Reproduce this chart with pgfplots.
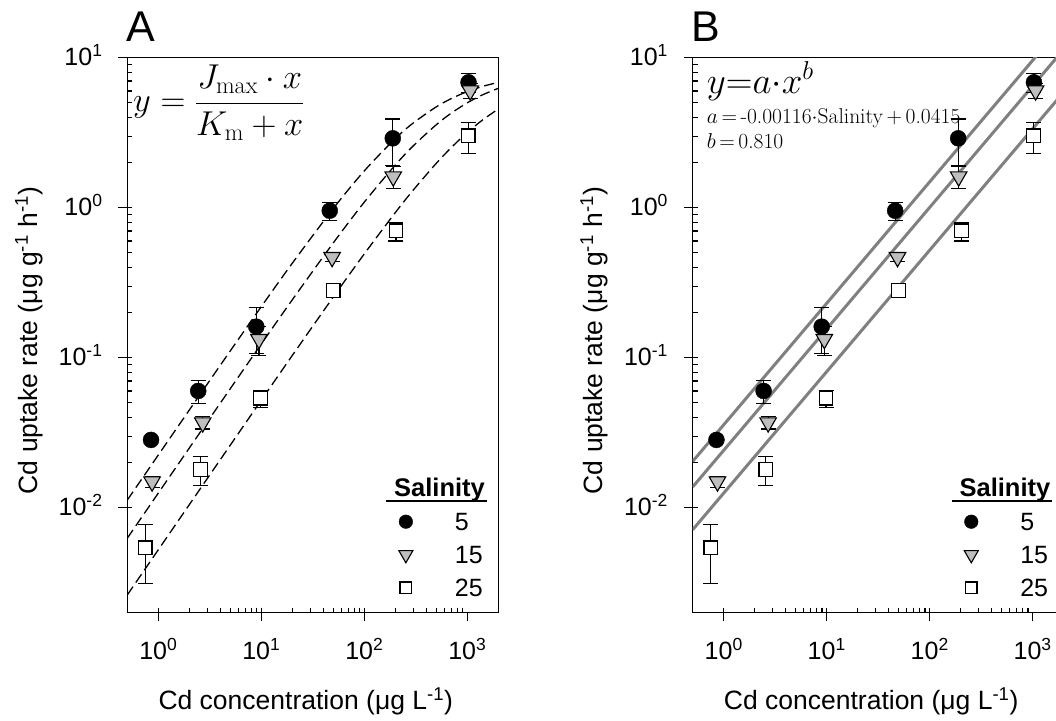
\RequirePackage{fix-cm}
\documentclass[border=0pt]{standalone}
\usepackage{fontspec}
\setsansfont{Liberation Sans}
\renewcommand{\familydefault}{\sfdefault}
\usepackage{pgfplots}
\usepackage{pgfplotstable}
\pgfplotsset{compat=1.18}

\definecolor{trifill}{RGB}{190,190,190}
\definecolor{fitline}{RGB}{128,128,128}

\newcommand{\ticksize}{\fontsize{25}{29}\selectfont}
\newcommand{\labsize}{\fontsize{26.5}{31}\selectfont}

% Cd uptake rate (ug g-1 h-1) against Cd concentration (ug L-1), with error
\pgfplotstableread{
x      y       e
0.85   0.0283  0
2.44   0.0600  0.0103
8.94   0.161   0.055
46.2   0.955   0.13
189    2.90    1.0
1028   6.85    1.0
}\salfive
\pgfplotstableread{
x      y       e
0.87   0.0149  0.0012
2.70   0.0369  0.0034
9.48   0.1327  0.029
48.7   0.467   0.03
191    1.61    0.27
1067   6.03    0.67
}\salfifteen
\pgfplotstableread{
x      y        e
0.747  0.00541  0.0023
2.56   0.0180   0.0039
9.85   0.0536   0.0071
49.8   0.280    0.015
203    0.700    0.10
1021   3.01     0.70
}\saltwentyfive

% Michaelis-Menten fits, y = Jmax x / (Km + x)
\pgfplotstableread{
x     y
0.5   0.01124
1     0.02244
2     0.04476
5     0.1110
10    0.2190
20    0.4264
50    0.9878
100   1.760
200   2.891
300   3.678
500   4.703
700   5.341
1000  5.946
1400  6.431
2000  6.850
}\mmfive
\pgfplotstableread{
x     y
0.5   0.006258
1     0.01251
2     0.02498
5     0.06216
10    0.1234
20    0.2432
50    0.5825
100   1.0889
200   1.926
300   2.590
500   3.575
700   4.272
1000  5.003
1400  5.647
2000  6.251
}\mmfifteen
\pgfplotstableread{
x     y
0.5   0.002620
1     0.005238
2     0.01047
5     0.02612
10    0.05207
20    0.1035
50    0.2538
100   0.4920
200   0.9273
300   1.3152
500   1.9764
700   2.519
1000  3.173
1400  3.836
2000  4.550
}\mmtwentyfive

\begin{document}
\begin{tikzpicture}
% panel A: saturation kinetics
\begin{axis}[
    at={(127.3pt,107.5pt)}, anchor=south west,
    xmode=log, ymode=log,
    scale only axis, width=371pt, height=554.8pt,
    xmin=0.5, xmax=2000, ymin=0.002, ymax=10,
    axis line style={line width=1.4pt},
    tick pos=left,
    tick align=outside,
    major tick length=9pt,
    minor tick length=-5pt,
    tick style={black, line width=1.2pt},
    xtick={1,10,100,1000},
    xticklabels={10\textsuperscript{0},10\textsuperscript{1},10\textsuperscript{2},10\textsuperscript{3}},
    ytick={0.01,0.1,1,10},
    yticklabels={10\textsuperscript{-2},10\textsuperscript{-1},10\textsuperscript{0},10\textsuperscript{1}},
    tick label style={font=\ticksize},
    xticklabel style={anchor=base, inner ysep=0pt, yshift=-37.8pt},
    yticklabel style={anchor=base east, inner xsep=0pt, xshift=-15.6pt, yshift=-7.6pt},
    xlabel={Cd concentration (μg L\textsuperscript{-1})},
    ylabel={Cd uptake rate (μg g\textsuperscript{-1} h\textsuperscript{-1})},
    label style={font=\labsize},
    xlabel style={at={(axis description cs:0.481,-0.1757)}, anchor=base},
    ylabel style={at={(axis description cs:-0.265,0.49)}, anchor=center},
    legend style={draw=none, fill=none, inner sep=0pt, outer sep=0pt,
      at={(0.732,0.1798)}, anchor=north west,
      font=\ticksize, column sep=42pt, row sep=15.1pt,
      nodes={inner xsep=0pt, inner ysep=0pt, text height=17.9pt, text depth=0pt}},
    legend cell align=left,
    legend image code/.code={\draw[#1] plot coordinates {(0pt,0pt)};},
    legend image post style={every mark/.append style={scale=0.85}},
  ]
  \addplot[black, line width=1.3pt, dash pattern=on 10pt off 5pt, smooth, forget plot] table {\mmfive};
  \addplot[black, line width=1.3pt, dash pattern=on 10pt off 5pt, smooth, forget plot] table {\mmfifteen};
  \addplot[black, line width=1.3pt, dash pattern=on 10pt off 5pt, smooth, forget plot] table {\mmtwentyfive};
  \addplot[only marks, mark=*, mark size=8pt, mark options={fill=black, draw=black},
    error bars/.cd, y dir=both, y explicit,
    error bar style={line width=1.2pt, black},
    error mark options={rotate=90, mark size=7.5pt, line width=1.2pt, black}]
    table[y error=e] {\salfive};
  \addlegendentry{5}
  \addplot[only marks, mark=triangle*, mark size=9.5pt,
    mark options={rotate=180, fill=trifill, draw=black, line width=1.1pt},
    error bars/.cd, y dir=both, y explicit,
    error bar style={line width=1.2pt, black},
    error mark options={rotate=90, mark size=7.5pt, line width=1.2pt, black}]
    table[y error=e] {\salfifteen};
  \addlegendentry{15}
  \addplot[only marks, mark=square*, mark size=6.8pt,
    mark options={fill=white, draw=black, line width=1.3pt},
    error bars/.cd, y dir=both, y explicit,
    error bar style={line width=1.2pt, black},
    error mark options={rotate=90, mark size=7.5pt, line width=1.2pt, black}]
    table[y error=e] {\saltwentyfive};
  \addlegendentry{25}
  \node[font=\bfseries\fontsize{25.5}{30}\selectfont, anchor=base, inner sep=0pt] at (rel axis cs:0.8415,0.2087) {Salinity};
  \draw[line width=2pt] (rel axis cs:0.6976,0.2015) -- (rel axis cs:0.9695,0.2015);
  \node[anchor=base west, inner sep=0pt] at (rel axis cs:0.0154,0.9029)
    {\fontsize{34.5}{40}\selectfont $\displaystyle y=\frac{J_{\max}\cdot x}{K_{\mathrm{m}}+x}$};
\end{axis}

% panel B: power-law fits
\begin{axis}[
    at={(692.7pt,107.5pt)}, anchor=south west,
    xmode=log, ymode=log,
    scale only axis, width=371pt, height=554.8pt,
    xmin=0.5, xmax=2000, ymin=0.002, ymax=10,
    axis line style={line width=1.4pt},
    tick pos=left,
    tick align=outside,
    major tick length=9pt,
    minor tick length=-5pt,
    tick style={black, line width=1.2pt},
    xtick={1,10,100,1000},
    xticklabels={10\textsuperscript{0},10\textsuperscript{1},10\textsuperscript{2},10\textsuperscript{3}},
    ytick={0.01,0.1,1,10},
    yticklabels={10\textsuperscript{-2},10\textsuperscript{-1},10\textsuperscript{0},10\textsuperscript{1}},
    tick label style={font=\ticksize},
    xticklabel style={anchor=base, inner ysep=0pt, yshift=-37.8pt},
    yticklabel style={anchor=base east, inner xsep=0pt, xshift=-15.6pt, yshift=-7.6pt},
    xlabel={Cd concentration (μg L\textsuperscript{-1})},
    ylabel={Cd uptake rate (μg g\textsuperscript{-1} h\textsuperscript{-1})},
    label style={font=\labsize},
    xlabel style={at={(axis description cs:0.481,-0.1757)}, anchor=base},
    ylabel style={at={(axis description cs:-0.265,0.49)}, anchor=center},
    legend style={draw=none, fill=none, inner sep=0pt, outer sep=0pt,
      at={(0.732,0.1798)}, anchor=north west,
      font=\ticksize, column sep=42pt, row sep=15.1pt,
      nodes={inner xsep=0pt, inner ysep=0pt, text height=17.9pt, text depth=0pt}},
    legend cell align=left,
    legend image code/.code={\draw[#1] plot coordinates {(0pt,0pt)};},
    legend image post style={every mark/.append style={scale=0.85}},
  ]
  \addplot[fitline, line width=3pt, forget plot] coordinates {(0.5,0.02036) (2000,16.84)};
  \addplot[fitline, line width=3pt, forget plot] coordinates {(0.5,0.01375) (2000,11.37)};
  \addplot[fitline, line width=3pt, forget plot] coordinates {(0.5,0.00713) (2000,5.898)};
  \addplot[only marks, mark=*, mark size=8pt, mark options={fill=black, draw=black},
    error bars/.cd, y dir=both, y explicit,
    error bar style={line width=1.2pt, black},
    error mark options={rotate=90, mark size=7.5pt, line width=1.2pt, black}]
    table[y error=e] {\salfive};
  \addlegendentry{5}
  \addplot[only marks, mark=triangle*, mark size=9.5pt,
    mark options={rotate=180, fill=trifill, draw=black, line width=1.1pt},
    error bars/.cd, y dir=both, y explicit,
    error bar style={line width=1.2pt, black},
    error mark options={rotate=90, mark size=7.5pt, line width=1.2pt, black}]
    table[y error=e] {\salfifteen};
  \addlegendentry{15}
  \addplot[only marks, mark=square*, mark size=6.8pt,
    mark options={fill=white, draw=black, line width=1.3pt},
    error bars/.cd, y dir=both, y explicit,
    error bar style={line width=1.2pt, black},
    error mark options={rotate=90, mark size=7.5pt, line width=1.2pt, black}]
    table[y error=e] {\saltwentyfive};
  \addlegendentry{25}
  \node[font=\bfseries\fontsize{25.5}{30}\selectfont, anchor=base, inner sep=0pt] at (rel axis cs:0.8415,0.2087) {Salinity};
  \draw[line width=2pt] (rel axis cs:0.6976,0.2015) -- (rel axis cs:0.9695,0.2015);
  \node[anchor=base west, inner sep=0pt] at (rel axis cs:0.0377,0.9358)
    {\fontsize{37}{42}\selectfont $y{=}a{\cdot}x^{b}$};
  \node[anchor=base west, inner sep=0pt] at (rel axis cs:0.0377,0.8817)
    {\fontsize{21.5}{25}\selectfont\rmfamily $a$\,=\,-0.00116$\cdot$Salinity\,+\,0.0415};
  \node[anchor=base west, inner sep=0pt] at (rel axis cs:0.0377,0.8372)
    {\fontsize{21.5}{25}\selectfont\rmfamily $b$\,=\,0.810};
\end{axis}

\node[anchor=base west, inner sep=0pt, font=\fontsize{43}{50}\selectfont] at (126pt,678.3pt) {A};
\node[anchor=base west, inner sep=0pt, font=\fontsize{43}{50}\selectfont] at (691pt,678.3pt) {B};

\pgfresetboundingbox
\useasboundingbox (0,0) rectangle (1056pt,720pt);
\end{tikzpicture}
\end{document}
